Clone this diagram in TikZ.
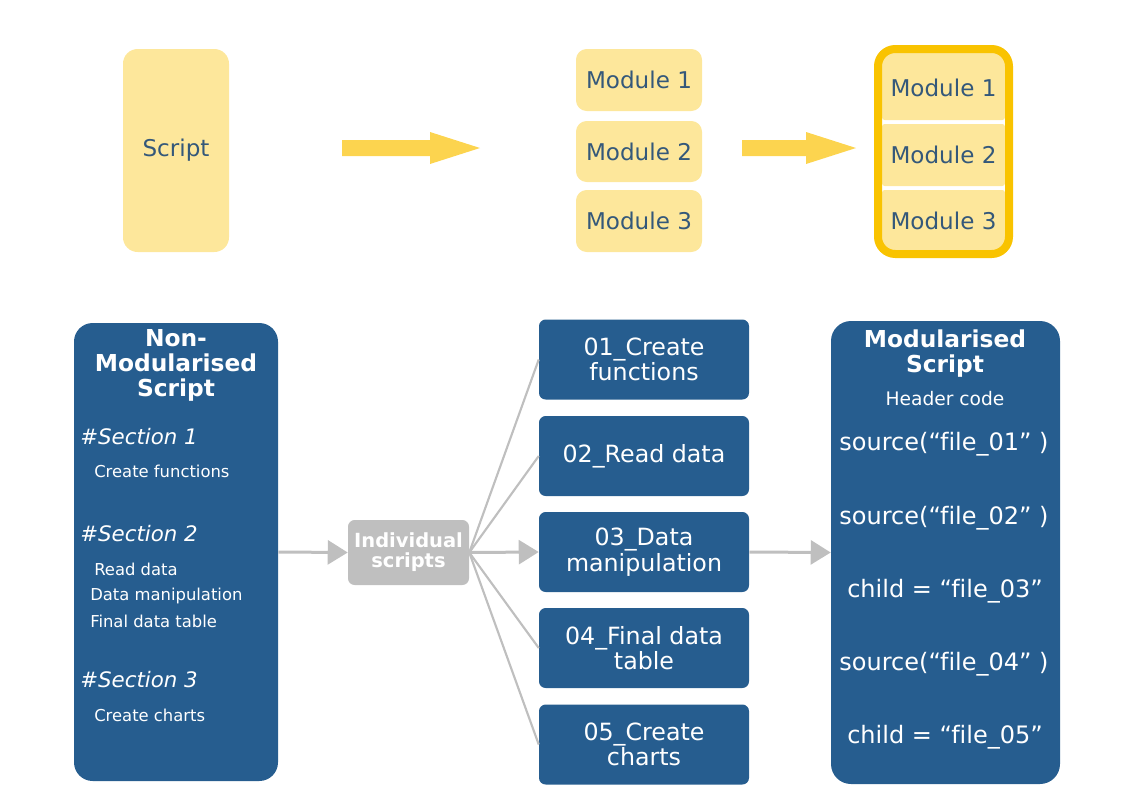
\documentclass[tikz,border=0pt]{standalone}
\usepackage{fontspec}
\setmainfont[Ligatures=NoCommon]{DejaVu Sans}
\usetikzlibrary{arrows.meta}
\definecolor{dblue}{HTML}{265D8F}
\definecolor{lyel}{HTML}{FDE79B}
\definecolor{ayel}{HTML}{FCD44F}
\definecolor{gold}{HTML}{F9C300}
\definecolor{mtext}{HTML}{34587A}
\definecolor{lgray}{HTML}{BFBFBF}
\newcommand\fsz[2]{\fontsize{#1}{#2}\selectfont}
\begin{document}
\begin{tikzpicture}[x=0.75pt,y=-0.75pt,
  ybox/.style={fill=lyel, rounded corners=8pt, text=mtext, font=\fsz{17.3pt}{20pt}, inner sep=0pt},
  bbox/.style={fill=dblue, rounded corners=5pt, text=white, font=\fsz{17.8pt}{19pt}, align=center, inner sep=0pt, minimum width=157.5pt, minimum height=60pt},
  bigbox/.style={fill=dblue, rounded corners=14pt, inner sep=0pt},
  wtitle/.style={text=white, font=\bfseries\fsz{17.5pt}{19pt}, align=center, inner sep=0pt},
  sect/.style={text=white, font=\itshape\fsz{16pt}{18pt}, anchor=west, inner sep=0pt},
  item/.style={text=white, font=\fsz{12.3pt}{14pt}, anchor=west, inner sep=0pt},
  code/.style={text=white, font=\fsz{18pt}{20pt}, inner sep=0pt},
  fan/.style={draw=lgray, line width=1.6pt},
  garrow/.style={draw=lgray, line width=2.25pt, -{Triangle[length=15pt,width=18pt]}},
  blockarrow/.style={fill=ayel}
]
\useasboundingbox (0,0) rectangle (1122,794);

% ---------- top row ----------
\node[ybox, rounded corners=11pt, minimum width=79.5pt, minimum height=152.25pt] (script) at (176,150.5) {Script};

\node[ybox, minimum width=94.5pt, minimum height=46.5pt] (ma) at (639,80) {Module 1};
\node[ybox, minimum width=94.5pt, minimum height=45.75pt] (mb) at (639,151.5) {Module 2};
\node[ybox, minimum width=94.5pt, minimum height=46.5pt] (mc) at (639,221) {Module 3};

\node[ybox, rounded corners=2pt, minimum width=92.25pt, minimum height=51pt, text height=15.5pt] (ra) at (943.5,86) {Module 1};
\node[ybox, rounded corners=2pt, minimum width=92.25pt, minimum height=46.5pt] (rb) at (943.5,155) {Module 2};
\node[ybox, rounded corners=2pt, minimum width=92.25pt, minimum height=45.75pt] (rc) at (943.5,220.5) {Module 3};
\node[draw=gold, line width=6pt, rounded corners=13pt, minimum width=98.25pt, minimum height=153.75pt, inner sep=0pt] (grp) at (943.5,151.5) {};

\fill[blockarrow] (342,140) -- (430,140) -- (430,132) -- (480,148) -- (430,164) -- (430,156) -- (342,156) -- cycle;
\fill[blockarrow] (742,140) -- (806,140) -- (806,132) -- (856,148) -- (806,164) -- (806,156) -- (742,156) -- cycle;

% ---------- bottom row ----------
\node[bigbox, minimum width=153pt, minimum height=343.5pt] (nm) at (176,552) {};
\node[wtitle] (nmt) at (176,365.5) {Non-\\Modularised\\Script};
\node[sect] (s1) at (80,437) {\#Section 1};
\node[item] (i1) at (94,471) {Create functions};
\node[sect] (s2) at (80,534) {\#Section 2};
\node[item] (i2) at (94,569) {Read data};
\node[item] (i3) at (90,596) {Data manipulation};
\node[item] (i4) at (90,621) {Final data table};
\node[sect] (s3) at (80,680) {\#Section 3};
\node[item] (i5) at (94,715) {Create charts};

\node[fill=lgray, rounded corners=5pt, minimum width=90.75pt, minimum height=48.75pt, inner sep=0pt,
      text=white, font=\bfseries\fsz{14.6pt}{15pt}, align=center] (ind) at (408.5,552.5) {Individual\\scripts};

\node[bbox] (b1) at (644,359.5) {01\_Create\\functions};
\node[bbox] (b2) at (644,456) {02\_Read data};
\node[bbox] (b3) at (644,552) {03\_Data\\manipulation};
\node[bbox] (b4) at (644,648) {04\_Final data\\table};
\node[bbox] (b5) at (644,744.5) {05\_Create\\charts};

\node[bigbox, rounded corners=15pt, minimum width=171.75pt, minimum height=347.25pt] (ms) at (945.5,552.5) {};
\node[wtitle] (mst) at (945,353.5) {Modularised\\Script};
\node[text=white, font=\fsz{14pt}{15pt}, inner sep=0pt] (hc) at (945,399) {Header code};
\node[code] (c1) at (944,444) {source(“file\_01” )};
\node[code] (c2) at (944,518) {source(“file\_02” )};
\node[code] (c3) at (945,591) {child = “file\_03”};
\node[code] (c4) at (944,664) {source(“file\_04” )};
\node[code] (c5) at (945,737) {child = “file\_05”};

% connectors
\draw[garrow] (nm.east) -- (ind.west);
\draw[fan] (ind.east) -- (b1.west);
\draw[fan] (ind.east) -- (b2.west);
\draw[fan] (ind.east) -- (b4.west);
\draw[fan] (ind.east) -- (b5.west);
\draw[garrow] (ind.east) -- (b3.west);
\draw[garrow] (b3.east) -- (ms.west);
\end{tikzpicture}
\end{document}
